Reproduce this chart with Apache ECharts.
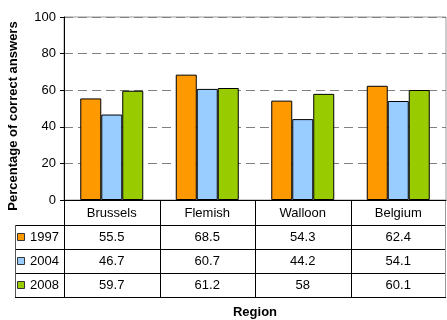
<!DOCTYPE html>
<html>
<head>
<meta charset="utf-8">
<script src="https://cdn.jsdelivr.net/npm/echarts@6/dist/echarts.min.js"></script>
<style>
  html, body { margin: 0; padding: 0; background: #fff; }
  #chart { width: 447px; height: 320px; }
</style>
</head>
<body>
<div id="chart"></div>
<script>
// Regions and survey years
const categories = ['Brussels', 'Flemish', 'Walloon', 'Belgium'];
const years = ['1997', '2004', '2008'];

// Percentage of correct answers per region, one array per year
const v1997 = [55.5, 68.5, 54.3, 62.4];
const v2004 = [46.7, 60.7, 44.2, 54.1];
const v2008 = [59.7, 61.2, 58, 60.1];

const yTicks = [0, 20, 40, 60, 80, 100];

const seriesValues = [v1997, v2004, v2008];
const colors = ['#FF9900', '#99CCFF', '#99CC00'];
const FONT = 'Liberation Sans, Arial, sans-serif';

const chart = echarts.init(document.getElementById('chart'), null, { renderer: 'canvas' });

const option = {
  animation: false,
  backgroundColor: '#ffffff',
  grid: {
    left: 64, right: 1, top: 17, bottom: 120,
    show: true, borderColor: '#999999', borderWidth: 1, backgroundColor: 'transparent'
  },
  xAxis: {
    type: 'category',
    data: categories,
    axisLine: { show: true, lineStyle: { color: '#000', width: 1 } },
    axisTick: { show: false },
    axisLabel: { show: false },
    splitLine: { show: false }
  },
  yAxis: {
    type: 'value',
    min: yTicks[0],
    max: yTicks[yTicks.length - 1],
    interval: yTicks[1] - yTicks[0],
    axisLine: { show: true, lineStyle: { color: '#000', width: 1 } },
    axisTick: { show: true, length: 4, lineStyle: { color: '#000' } },
    axisLabel: { color: '#000', fontSize: 13, fontFamily: FONT, margin: 8 },
    splitLine: { show: true, lineStyle: { color: '#808080', type: [9, 5], width: 1 } }
  },
  series: years.map((y, i) => ({
    name: y,
    type: 'bar',
    data: seriesValues[i],
    barWidth: 21,
    barGap: '0%',
    itemStyle: { color: colors[i], borderColor: '#000', borderWidth: 1 }
  }))
};
chart.setOption(option);

// Data table under the plot, laid out from the category axis positions
function buildTable() {
  const c0 = chart.convertToPixel({ xAxisIndex: 0 }, 0);
  const c1 = chart.convertToPixel({ xAxisIndex: 0 }, 1);
  const band = c1 - c0;
  const left = c0 - band / 2;
  const right = left + band * categories.length;
  const top = chart.convertToPixel({ yAxisIndex: 0 }, 0);
  const headerH = 25;
  const rowH = 24;
  const legendLeft = 15;
  const headBottom = top + headerH;
  const bottom = headBottom + rowH * years.length;
  const els = [];
  const line = (x1, y1, x2, y2, color) => els.push({
    type: 'line', silent: true,
    shape: { x1, y1, x2, y2 },
    style: { stroke: color || '#000', lineWidth: 1 }
  });
  const text = (x, y, t, align, bold) => els.push({
    type: 'text', silent: true, x, y,
    style: {
      text: t, fill: '#000', font: (bold ? 'bold ' : '') + '13px ' + FONT,
      align: align || 'center', verticalAlign: 'middle'
    }
  });

  // horizontal rules
  for (let r = 0; r <= years.length; r++) {
    const y = Math.round(headBottom + rowH * r) + 0.5;
    line(legendLeft, y, right, y);
  }
  // vertical rules
  line(legendLeft + 0.5, headBottom, legendLeft + 0.5, bottom, '#555');
  for (let c = 0; c < categories.length; c++) {
    const x = Math.round(left + band * c) + 0.5;
    line(x, top, x, bottom);
  }
  line(Math.round(right) - 0.5, top, Math.round(right) - 0.5, bottom, '#999');

  // header and cells
  categories.forEach((name, c) => {
    const cx = left + band * (c + 0.5);
    text(cx, top + headerH / 2 + 0.5, name);
    years.forEach((y, r) => {
      text(cx, headBottom + rowH * (r + 0.5) + 0.5, String(seriesValues[r][c]));
    });
  });
  // legend keys
  years.forEach((y, r) => {
    const cy = headBottom + rowH * (r + 0.5);
    els.push({
      type: 'rect', silent: true,
      shape: { x: legendLeft + 2.5, y: Math.round(cy - 4) + 0.5, width: 7, height: 7 },
      style: { fill: colors[r], stroke: '#333', lineWidth: 1 }
    });
    text(legendLeft + 15, cy + 0.5, y, 'left');
  });

  // axis titles
  text((left + right) / 2, 312, 'Region', 'center', true);
  els.push({
    type: 'text', silent: true, x: 13, y: 116, rotation: Math.PI / 2,
    style: {
      text: 'Percentage of correct answers', fill: '#000',
      font: 'bold 13px ' + FONT, align: 'center', verticalAlign: 'middle'
    }
  });

  chart.setOption({ graphic: { elements: els } });
}
buildTable();
</script>
</body>
</html>
